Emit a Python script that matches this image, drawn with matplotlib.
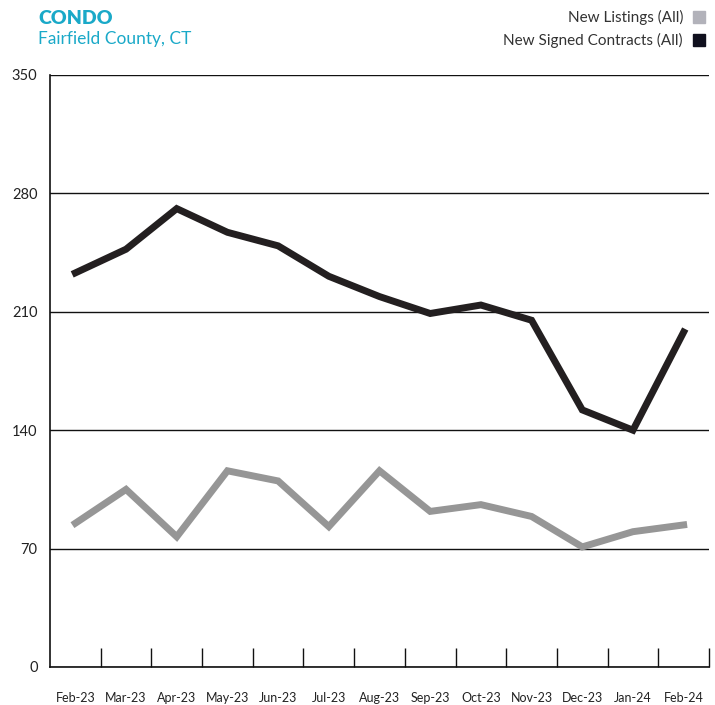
import matplotlib.pyplot as plt
import numpy as np
from matplotlib.patches import Rectangle

# data
months = ['Feb-23', 'Mar-23', 'Apr-23', 'May-23', 'Jun-23', 'Jul-23', 'Aug-23',
          'Sep-23', 'Oct-23', 'Nov-23', 'Dec-23', 'Jan-24', 'Feb-24']
new_listings = [85, 105, 77, 116, 110, 83, 116, 92, 96, 89, 71, 80, 84]
signed_contracts = [233, 247, 271, 257, 249, 231, 219, 209, 214, 205, 152, 140, 198]
yticks = [0, 70, 140, 210, 280, 350]

teal = '#1aa9c8'
gray_line = '#969696'
black_line = '#231f20'

plt.rcParams['font.family'] = ['Lato', 'DejaVu Sans']

fig = plt.figure(figsize=(7.15, 7.05), dpi=100)
ax = fig.add_axes([50/715, 38/705, 659/715, 592/705])

x = np.arange(len(months))
ax.plot(x, new_listings, color=gray_line, lw=5, solid_joinstyle='miter', zorder=3)
ax.plot(x, signed_contracts, color=black_line, lw=5, solid_joinstyle='miter', zorder=3)

ax.set_xlim(-0.5, len(months) - 0.5)
ax.set_ylim(0, 350)

ax.set_yticks(yticks)
ax.set_yticklabels([str(v) for v in yticks], fontsize=10.5, color='#222222')
ax.tick_params(axis='y', length=0, pad=9)
ax.grid(axis='y', color='#111111', lw=1)
ax.set_axisbelow(True)

ax.set_xticks(x)
ax.set_xticklabels(months, fontsize=9, color='#222222')
ax.tick_params(axis='x', which='major', length=0, pad=18)
ax.set_xticks(np.arange(0.5, len(months)), minor=True)
ax.tick_params(axis='x', which='minor', direction='in', length=14, width=1, color='#111111')

for s in ['top', 'right']:
    ax.spines[s].set_visible(False)
for s in ['left', 'bottom']:
    ax.spines[s].set_color('#111111')
    ax.spines[s].set_linewidth(1.2)

fig.text(38/715, 1 - 19/705, 'CONDO', color=teal, fontsize=14, fontweight='heavy', va='center', ha='left')
fig.text(38/715, 1 - 39/705, 'Fairfield County, CT', color=teal, fontsize=12.5, va='center', ha='left')

legend_items = [('New Listings (All)', '#b2b2ba', 17), ('New Signed Contracts (All)', '#10101e', 40)]
for label, col, yy in legend_items:
    fig.text(683/715, 1 - yy/705, label, color='#333333', fontsize=11, va='center', ha='right')
    fig.patches.append(Rectangle((693/715, 1 - (yy + 6)/705), 12/715, 12/705,
                                 transform=fig.transFigure, color=col))

fig.savefig('out.png', dpi=100)
